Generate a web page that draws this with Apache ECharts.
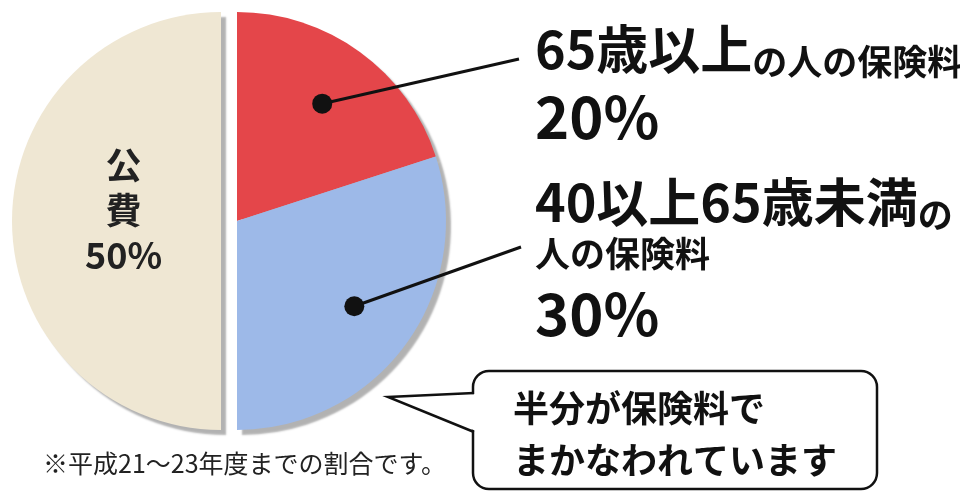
<!DOCTYPE html>
<html><head><meta charset="utf-8">
<script src="https://cdn.jsdelivr.net/npm/echarts@6/dist/echarts.min.js"></script>
<style>html,body{margin:0;padding:0;background:#fff}#c{width:960px;height:493px}</style>
</head><body><div id="c"></div>
<script>
// ---- data ----
const categories = ['65歳以上', '40以上65歳未満', '公費'];
const values = [20, 30, 50];
const nameSuffix = ['の人の保険料', 'の', ''];
const nameLine2 = ['', '人の保険料', ''];
const colors = ['#E4464A', '#9DB9E8', '#EFE7D3'];
const bubbleLines = ['半分が保険料で', 'まかなわれています'];
const footnote = '※平成21～23年度までの割合です。';

// ---- layout ----
const FONT = '"Noto Sans CJK JP", "Noto Sans", sans-serif';
const CX = 237, CY = 221, R = 209, RDOT = 145;
const labelPos = [{x: 535, y: 19}, {x: 535, y: 172}];
const lineEnds = [[519, 59], [521, 247]];

const total = values.reduce((a, b) => a + b, 0);
const dotData = values.slice(0, 2).map((v, i) => {
  const before = values.slice(0, i).reduce((a, b) => a + b, 0);
  return [1, before + v / 2];
});

const chart = echarts.init(document.getElementById('c'), null, {renderer: 'canvas'});
chart.setOption({
  backgroundColor: '#fff',
  animation: false,
  polar: {center: [CX, CY], radius: RDOT},
  angleAxis: {type: 'value', min: 0, max: total, startAngle: 90, clockwise: true, show: false},
  radiusAxis: {type: 'value', min: 0, max: 1, show: false},
  series: [
    {
      type: 'pie', center: [CX, CY], radius: R, startAngle: 90, clockwise: true,
      selectedMode: 'single', selectedOffset: 16, silent: true,
      itemStyle: {shadowBlur: 2, shadowColor: 'rgba(0,0,0,0.3)', shadowOffsetX: 5, shadowOffsetY: 5},
      label: {show: false},
      labelLine: {show: false},
      labelLayout: p => p.dataIndex === 2 ? {dx: 10, dy: -11} : {},
      data: categories.map((n, i) => ({
        name: n, value: values[i], selected: i === 2,
        itemStyle: {color: colors[i]},
        label: i === 2 ? {
          show: true, position: 'inside',
          formatter: n.split('').join('\n') + '\n' + values[i] + '%',
          fontSize: 36, lineHeight: 45, color: '#222', fontWeight: 'bold', fontFamily: FONT
        } : {show: false}
      }))
    },
    {
      type: 'pie', center: [CX, CY], radius: RDOT, startAngle: 90, clockwise: true,
      silent: true, avoidLabelOverlap: false,
      itemStyle: {color: 'rgba(0,0,0,0)'},
      label: {
        show: true, position: 'outside', color: '#111',
        formatter: p => {
          const i = p.dataIndex;
          let s = `{big|${categories[i]}}{small|${nameSuffix[i]}}`;
          if (nameLine2[i]) s += `\n{small2|${nameLine2[i]}}`;
          s += `\n{pct|${values[i]}%}`;
          return s;
        },
        rich: {
          big: {fontSize: 52, fontWeight: 'bold', lineHeight: 60, fontFamily: FONT, color: '#111'},
          small: {fontSize: 35, fontWeight: 'bold', lineHeight: 46, verticalAlign: 'bottom', fontFamily: FONT, color: '#111'},
          small2: {fontSize: 35, fontWeight: 'bold', lineHeight: 44, fontFamily: FONT, color: '#111'},
          pct: {fontSize: 58, fontWeight: 'bold', lineHeight: 76, fontFamily: FONT, color: '#111'}
        }
      },
      labelLine: {show: false},
      labelLayout: p => {
        if (p.dataIndex > 1) return {};
        const lp = labelPos[p.dataIndex];
        return {x: lp.x, y: lp.y, align: 'left', verticalAlign: 'top'};
      },
      data: categories.map((n, i) => ({
        name: n, value: values[i], label: {show: i < 2}
      }))
    },
    {
      type: 'custom', coordinateSystem: 'polar', silent: true, z: 5,
      data: dotData,
      renderItem: (params, api) => {
        const p = api.coord([api.value(0), api.value(1)]);
        const e = lineEnds[params.dataIndex];
        return {
          type: 'group',
          children: [
            {type: 'line', shape: {x1: p[0], y1: p[1], x2: e[0], y2: e[1]},
             style: {stroke: '#111', lineWidth: 3}},
            {type: 'circle', shape: {cx: p[0], cy: p[1], r: 10}, style: {fill: '#111'}}
          ]
        };
      }
    }
  ],
  graphic: [
    {type: 'rect', shape: {x: 473, y: 371, width: 404, height: 118, r: 16},
     style: {fill: '#fff', stroke: '#111', lineWidth: 2.5}},
    {type: 'polygon', shape: {points: [[476, 394], [390, 397], [476, 431]]}, style: {fill: '#fff'}},
    {type: 'polyline', shape: {points: [[474, 393], [388, 397], [474, 432]]},
     style: {stroke: '#111', lineWidth: 2.5, fill: null}},
    {type: 'text', x: 513, y: 382,
     style: {text: bubbleLines.join('\n'), font: `bold 36px ${FONT}`, lineHeight: 52, fill: '#111', verticalAlign: 'top'}},
    {type: 'text', x: 43, y: 463,
     style: {text: footnote, font: `25px ${FONT}`, fill: '#222', verticalAlign: 'middle'}}
  ]
});
</script>
</body></html>
